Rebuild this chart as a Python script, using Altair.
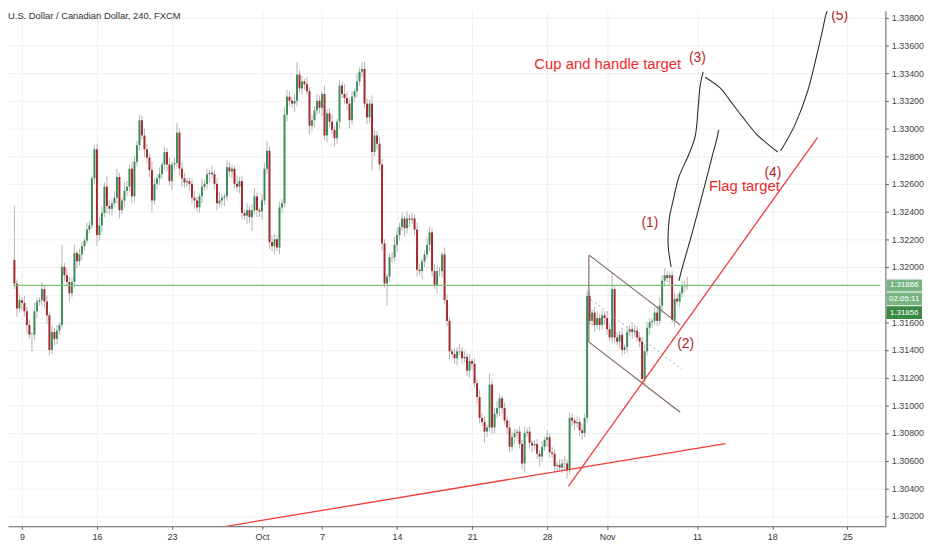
import altair as alt
import pandas as pd

TITLE = "U.S. Dollar / Canadian Dollar, 240, FXCM"

# ---------------- candle data (USD/CAD, 4h bars) ----------------
first_open = 1.3205
closes = [
    # Sep 6 - Sep 13
    1.3188, 1.3170, 1.3176, 1.3174, 1.3168, 1.3158, 1.3151, 1.3151, 1.3168, 1.3175,
    1.3176, 1.3184, 1.3175, 1.3165, 1.3140, 1.3153, 1.3148, 1.3154, 1.3158, 1.3200,
    1.3194, 1.3189, 1.3181, 1.3189, 1.3210, 1.3204, 1.3209, 1.3215, 1.3219, 1.3227,
    1.3230, 1.3264, 1.3285,
    # Sep 16 - Sep 19
    1.3223, 1.3230, 1.3239, 1.3258, 1.3244, 1.3242, 1.3246, 1.3250, 1.3265, 1.3241,
    1.3248, 1.3255, 1.3258, 1.3271, 1.3251, 1.3276, 1.3288,
    # Sep 19 - Oct 3
    1.3306, 1.3295, 1.3285, 1.3279, 1.3270, 1.3248, 1.3260, 1.3264, 1.3267, 1.3274,
    1.3283, 1.3274, 1.3262, 1.3274, 1.3275, 1.3297, 1.3271, 1.3264, 1.3261, 1.3262,
    1.3260, 1.3250, 1.3248, 1.3243, 1.3251, 1.3258, 1.3260, 1.3267, 1.3268, 1.3267,
    1.3260, 1.3246, 1.3248, 1.3250, 1.3251, 1.3272, 1.3269, 1.3271, 1.3260, 1.3258,
    1.3262, 1.3239, 1.3237, 1.3241, 1.3236, 1.3241, 1.3251, 1.3241, 1.3240, 1.3248,
    1.3271, 1.3284, 1.3218,
    # Oct 3 - Oct 22
    1.3215, 1.3220, 1.3214, 1.3243, 1.3246, 1.3310, 1.3323, 1.3320, 1.3318, 1.3320,
    1.3339, 1.3329, 1.3334, 1.3332, 1.3327, 1.3302, 1.3306, 1.3313, 1.3320, 1.3315,
    1.3325, 1.3295, 1.3311, 1.3305, 1.3299, 1.3293, 1.3305, 1.3331, 1.3325, 1.3322,
    1.3318, 1.3306, 1.3323, 1.3327, 1.3334, 1.3341, 1.3343, 1.3318, 1.3308, 1.3318,
    1.3283, 1.3295, 1.3289, 1.3274, 1.3217, 1.3188, 1.3193, 1.3207, 1.3207, 1.3216,
    1.3223, 1.3229, 1.3235, 1.3228, 1.3235, 1.3234, 1.3235, 1.3227, 1.3198, 1.3197,
    1.3204, 1.3209, 1.3216, 1.3225, 1.3197, 1.3187, 1.3197, 1.3197, 1.3209, 1.3176,
    1.3161,
    # Oct 22 - Nov 8
    1.3139, 1.3137, 1.3134, 1.3139, 1.3139, 1.3134, 1.3135, 1.3125, 1.3132, 1.3130,
    1.3116, 1.3106, 1.3091, 1.3088, 1.3081, 1.3084, 1.3115, 1.3084, 1.3094, 1.3098,
    1.3105, 1.3098, 1.3089, 1.3084, 1.3070, 1.3077, 1.3080, 1.3081, 1.3072, 1.3058,
    1.3080, 1.3081, 1.3073, 1.3071, 1.3072, 1.3065, 1.3063, 1.3070, 1.3075, 1.3077,
    1.3066, 1.3065, 1.3056, 1.3057, 1.3055, 1.3058, 1.3058, 1.3053, 1.3091, 1.3089,
    1.3087, 1.3088, 1.3082, 1.3080, 1.3091, 1.3179,
    1.3161, 1.3167, 1.3158, 1.3163, 1.3158, 1.3165, 1.3163, 1.3155, 1.3149, 1.3184,
    1.3149, 1.3146, 1.3151, 1.3140, 1.3142, 1.3153, 1.3155, 1.3153, 1.3154, 1.3149,
    1.3146, 1.3119, 1.3139, 1.3156, 1.3160, 1.3161, 1.3167, 1.3161, 1.3172, 1.3190,
    1.3194, 1.3192, 1.3194, 1.3162, 1.3177, 1.3175, 1.3181, 1.3186, 1.3187, 1.3186,
]
upper_wick_pips = [
    39, 3, 4, 2, 5, 3, 4, 2, 6, 3, 2, 5, 3, 4, 2, 5, 3, 4, 2, 16, 3, 5, 4, 3, 6, 2, 4, 3, 2, 5,
    3, 2, 3, 4, 6, 5, 3, 8, 4, 3, 5, 6, 3, 2, 6, 4, 3, 5, 4, 3, 4, 3, 5, 4, 3, 6, 4, 3, 5, 2,
    4, 3, 5, 2, 4, 7, 3, 5, 4, 2, 3, 4, 5, 3, 2, 6, 3, 4, 2, 5, 3, 4, 6, 3, 2, 5, 4, 3, 2, 6,
    3, 4, 2, 5, 3, 4, 6, 3, 2, 5, 4, 7, 3, 5, 4, 3, 4, 3, 6, 5, 4, 3, 5, 9, 3, 4, 2, 5, 3, 4,
    3, 5, 4, 2, 6, 3, 4, 5, 3, 2, 4, 3, 7, 5, 3, 4, 2, 6, 3, 5, 5, 4, 3, 6, 4, 3, 5, 4, 3, 2,
    3, 4, 6, 5, 3, 4, 2, 5, 3, 4, 3, 5, 4, 2, 3, 6, 4, 3, 5, 4, 3, 2, 5, 4, 3, 2, 4, 3, 5, 3,
    4, 3, 5, 2, 4, 3, 5, 3, 4, 2, 8, 3, 4, 5, 3, 2, 4, 3, 5, 4, 3, 2, 4, 3, 5, 3, 4, 2, 3, 4,
    3, 4, 2, 5, 3, 4, 3, 2, 4, 3, 5, 3, 4, 3, 2, 4, 3, 5, 3, 4, 3, 2, 4, 5, 3, 4, 3, 5, 4, 12,
    3, 4, 3, 5, 2, 4, 3, 5, 4, 3, 4, 3, 5, 4, 3, 2, 4, 5, 6, 4, 5, 3, 2, 3, 4, 3, 2, 4, 3, 6,
]
lower_wick_pips = [
    4, 6, 3, 5, 4, 6, 3, 12, 4, 5, 3, 4, 5, 6, 4, 3, 5, 4, 3, 2, 4, 3, 6, 3, 4, 5, 3, 4, 3, 2,
    3, 2, 4, 8, 4, 5, 3, 6, 4, 5, 3, 4, 6, 3, 5, 4, 3, 5, 4, 3, 4, 3, 6, 4, 5, 8, 3, 4, 5, 3,
    4, 5, 3, 6, 4, 3, 5, 6, 4, 3, 5, 4, 6, 3, 4, 5, 3, 4, 6, 3, 4, 5, 3, 4, 6, 3, 4, 5, 3, 4,
    5, 4, 3, 6, 4, 10, 3, 5, 4, 6, 3, 4, 5, 4, 6, 3, 5, 4, 3, 5, 4, 3, 6, 4, 3, 5, 4, 3, 6, 4,
    5, 3, 4, 6, 3, 5, 4, 3, 6, 4, 5, 3, 4, 5, 6, 3, 4, 5, 3, 4, 3, 5, 4, 13, 3, 4, 4, 5, 3, 16,
    4, 4, 3, 5, 4, 3, 6, 4, 5, 3, 4, 5, 3, 6, 4, 3, 5, 4, 3, 6, 4, 5, 3, 4, 6, 3, 4, 5, 3, 4,
    3, 4, 5, 4, 3, 5, 4, 3, 8, 4, 3, 5, 4, 3, 6, 4, 3, 5, 4, 3, 5, 4, 3, 4, 6, 3, 4, 5, 3, 4,
    7, 4, 3, 5, 4, 3, 5, 4, 3, 4, 5, 6, 3, 4, 5, 3, 4, 5, 3, 4, 3, 4, 5, 3, 4, 3, 5, 4, 3, 4,
    4, 3, 5, 4, 3, 4, 3, 5, 4, 3, 4, 2, 4, 3, 5, 4, 3, 4, 3, 5, 4, 3, 4, 2, 5, 3, 4, 3, 4, 3,
]

# axis ticks (x = 4h bar number, 30 bars per trading week)
x_tick_values = [3, 33, 63, 99, 123, 153, 183, 213, 237, 273, 303, 333]
x_tick_labels = ["9", "16", "23", "Oct", "7", "14", "21", "28", "Nov", "11", "18", "25"]
y_tick_values = [1.302, 1.304, 1.306, 1.308, 1.310, 1.312, 1.314, 1.316, 1.318, 1.320,
                 1.322, 1.324, 1.326, 1.328, 1.330, 1.332, 1.334, 1.336, 1.338]
y_hidden_label = 1.318   # covered by the price boxes in the original

# ---------------- drawings (bar number, price) ----------------
cup_idx = [262.6, 261.4, 261.8, 263.4, 265.7, 269.6, 272.3, 273.4, 274.2, 275.4]
cup_price = [1.3200, 1.3216, 1.3234, 1.3248, 1.3265, 1.3281, 1.3295, 1.3315, 1.3331, 1.3341]
drop_idx = [276.2, 282.4, 286.2, 291.3, 296.7, 301.7, 305.2]
drop_price = [1.3337, 1.3329, 1.3320, 1.3308, 1.3296, 1.3288, 1.3283]
rally_idx = [306.4, 312.2, 317.2, 321.1, 323.1, 324.6, 325.8]
rally_price = [1.3284, 1.3303, 1.3327, 1.3355, 1.3371, 1.3383, 1.3387]
flagpath_idx = [265.7, 267.6, 270.3, 272.7, 274.6, 276.9, 279.3, 280.8, 281.6]
flagpath_price = [1.3190, 1.3203, 1.3220, 1.3236, 1.3249, 1.3265, 1.3282, 1.3292, 1.3299]

trend_id = ["long", "long", "steep", "steep"]
trend_idx = [83.5, 284.3, 221.5, 321.1]
trend_price = [1.30122, 1.30724, 1.30414, 1.32935]

channel_id = ["upper", "upper", "lower", "lower", "pole", "pole"]
channel_idx = [229.8, 266.2, 229.5, 266.2, 229.7, 229.7]
channel_price = [1.32085, 1.31581, 1.31460, 1.30950, 1.32085, 1.31460]
median_idx = [230.5, 266.9]
median_price = [1.31766, 1.31259]

wave_text = ["(1)", "(2)", "(3)", "(4)", "(5)"]
wave_idx = [254.1, 268.4, 273.1, 303.3, 330.0]
wave_price = [1.32315, 1.31442, 1.33512, 1.32681, 1.33815]

note_text = ["Cup and handle target", "Flag target"]
note_idx = [207.9, 277.7]
note_price = [1.33463, 1.32583]

last_line_price = 1.31866
last_close_label = "1.31856"
countdown_label = "02:05:11"

# ---------------- build tables ----------------
assert len(closes) == len(upper_wick_pips) == len(lower_wick_pips)
rows = []
prev = first_open
for i, c in enumerate(closes):
    o = prev
    top, bot = max(o, c), min(o, c)
    hi = top + upper_wick_pips[i] / 10000
    lo = bot - lower_wick_pips[i] / 10000
    if top - bot < 0.00002:
        top += 0.00001
        bot -= 0.00001
    rows.append(dict(idx=i, open=o, close=c, high=hi, low=lo, top=top, bot=bot,
                     dir="up" if c >= o else "down"))
    prev = c
candles = pd.DataFrame(rows)


def path(idx, price, name):
    return pd.DataFrame({"idx": idx, "price": price, "k": list(range(len(idx))), "g": name})


curves = pd.concat([path(cup_idx, cup_price, "cup"), path(drop_idx, drop_price, "drop"),
                    path(rally_idx, rally_price, "rally"),
                    path(flagpath_idx, flagpath_price, "flag")])
trends = pd.DataFrame({"idx": trend_idx, "price": trend_price, "g": trend_id})
channel = pd.DataFrame({"idx": channel_idx, "price": channel_price, "g": channel_id})
median = pd.DataFrame({"idx": median_idx, "price": median_price})
waves = pd.DataFrame({"idx": wave_idx, "price": wave_price, "t": wave_text})
notes = pd.DataFrame({"idx": note_idx, "price": note_price, "t": note_text})
lastp = pd.DataFrame({"price": [last_line_price], "t": [f"{last_line_price:.5f}"],
                      "cd": [countdown_label], "lc": [last_close_label]})
hline_df = pd.DataFrame({"idx": [-0.58, 346.3], "price": [last_line_price, last_line_price]})
title_df = pd.DataFrame({"t": [TITLE]})

# ---------------- scales & axes ----------------
FONT = "Liberation Sans Narrow, Liberation Sans"
xs = alt.Scale(domain=[-0.58, 346.3], nice=False, zero=False)
ys = alt.Scale(domain=[1.30126, 1.3385], nice=False, zero=False)

label_expr = "".join(f"datum.value == {v} ? '{l}' : " for v, l in zip(x_tick_values, x_tick_labels)) + "''"
y_label_expr = f"datum.value == {y_hidden_label} ? '' : format(datum.value, '.5f')"
x_axis = alt.Axis(values=x_tick_values, labelExpr=label_expr, title=None, grid=True,
                  gridColor="#efefef", domainColor="#5c5c5c", tickColor="#5c5c5c", tickSize=3,
                  labelFontSize=9, labelColor="#333333", labelFont=FONT, labelPadding=3,
                  labelOverlap=False, labelFlush=False)
y_axis = alt.Axis(values=y_tick_values, labelExpr=y_label_expr, orient="right", title=None, grid=True,
                  gridColor="#efefef", domainColor="#5c5c5c", tickColor="#5c5c5c", tickSize=3,
                  labelFontSize=9, labelColor="#444444", labelFont=FONT, labelPadding=3,
                  labelOverlap=False, labelFlush=False)

X = alt.X("idx:Q", scale=xs, axis=x_axis)

wicks = alt.Chart(candles).mark_rule(color="#b5b5b5", strokeWidth=1).encode(
    x=X, y=alt.Y("low:Q", scale=ys, axis=y_axis), y2="high:Q")
bodies = alt.Chart(candles).mark_bar(size=2).encode(
    x=X, y=alt.Y("bot:Q", scale=ys, axis=y_axis), y2="top:Q",
    color=alt.Color("dir:N", scale=alt.Scale(domain=["up", "down"], range=["#3d8b58", "#a5282c"]),
                    legend=None))

hline = alt.Chart(hline_df).mark_line(color="#7dbf7f", strokeWidth=1.2, clip=True).encode(
    x=X, y=alt.Y("price:Q", scale=ys, axis=y_axis))

trend_layer = alt.Chart(trends).mark_line(color="#f23a3a", strokeWidth=1.3, clip=True).encode(
    x=X, y=alt.Y("price:Q", scale=ys, axis=y_axis), detail="g:N")
channel_layer = alt.Chart(channel).mark_line(color="#7d5f60", strokeWidth=1.1, clip=True).encode(
    x=X, y=alt.Y("price:Q", scale=ys, axis=y_axis), detail="g:N")
median_layer = alt.Chart(median).mark_line(color="#a0a0a0", strokeWidth=1, strokeDash=[2, 3],
                                           clip=True).encode(
    x=X, y=alt.Y("price:Q", scale=ys, axis=y_axis))
curve_layer = alt.Chart(curves).mark_line(color="#2e2e2e", strokeWidth=1.1, interpolate="cardinal",
                                          clip=True).encode(
    x=X, y=alt.Y("price:Q", scale=ys, axis=y_axis), detail="g:N", order="k:Q")

wave_layer = alt.Chart(waves).mark_text(fontSize=14, color="#b3262a", font="Liberation Sans",
                                        align="center", baseline="middle", clip=True).encode(
    x=X, y=alt.Y("price:Q", scale=ys, axis=y_axis), text="t:N")
note_layer = alt.Chart(notes).mark_text(fontSize=15, color="#f0282d", font="Liberation Sans",
                                        align="left", baseline="middle").encode(
    x=X, y=alt.Y("price:Q", scale=ys, axis=y_axis), text="t:N")

title_layer = alt.Chart(title_df).mark_text(fontSize=9.5, color="#333333", font=FONT, align="left",
                                            baseline="middle").encode(
    x=alt.value(0), y=alt.value(5), text="t:N")

BX0, BX1, BXC = 888, 924, 906
box1 = alt.Chart(lastp).mark_rect(color="#78b583", yOffset=-6, y2Offset=6).encode(
    x=alt.value(BX0), x2=alt.value(BX1), y=alt.Y("price:Q", scale=ys, axis=y_axis), y2="price:Q")
box2 = alt.Chart(lastp).mark_rect(color="#78b583", yOffset=7, y2Offset=20).encode(
    x=alt.value(BX0), x2=alt.value(BX1), y=alt.Y("price:Q", scale=ys, axis=y_axis), y2="price:Q")
box3 = alt.Chart(lastp).mark_rect(color="#3a8a45", yOffset=21, y2Offset=34).encode(
    x=alt.value(BX0), x2=alt.value(BX1), y=alt.Y("price:Q", scale=ys, axis=y_axis), y2="price:Q")
txt1 = alt.Chart(lastp).mark_text(color="white", fontSize=8, font=FONT, baseline="middle").encode(
    x=alt.value(BXC), y=alt.Y("price:Q", scale=ys, axis=y_axis), text="t:N")
txt2 = alt.Chart(lastp).mark_text(color="white", fontSize=8, font=FONT, baseline="middle", dy=13.5).encode(
    x=alt.value(BXC), y=alt.Y("price:Q", scale=ys, axis=y_axis), text="cd:N")
txt3 = alt.Chart(lastp).mark_text(color="white", fontSize=8, font=FONT, baseline="middle", dy=27.5).encode(
    x=alt.value(BXC), y=alt.Y("price:Q", scale=ys, axis=y_axis), text="lc:N")

chart = alt.layer(
    wicks, bodies, hline, median_layer, channel_layer, trend_layer, curve_layer,
    wave_layer, note_layer, title_layer, box1, box2, box3, txt1, txt2, txt3
).properties(
    width=887, height=521, padding={"left": 0, "top": 0, "right": 0, "bottom": 0},
    background="white"
).configure_view(stroke="transparent")

chart.save("out.html", embed_options={"renderer": "svg", "actions": False})
